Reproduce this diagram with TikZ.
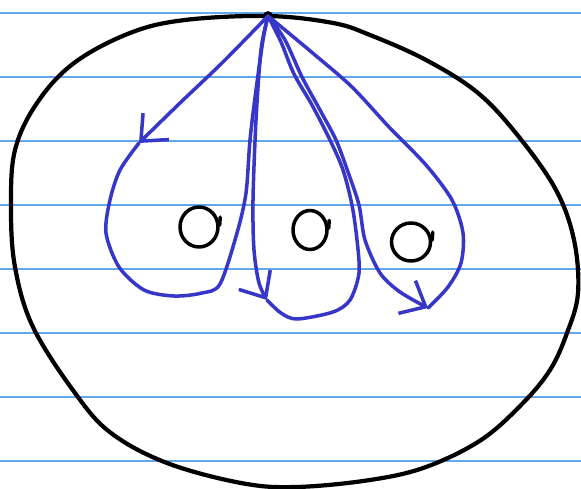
\documentclass[tikz,border=0pt]{standalone}
\usetikzlibrary{arrows.meta,shapes.geometric}
\definecolor{ruleblue}{HTML}{62A6EC}
\definecolor{inkblue}{HTML}{3636C8}

\begin{document}
\begin{tikzpicture}[x=0.02cm, y=-0.02cm,
  ink/.style={line width=2.2pt, line cap=round, line join=round},
  strand/.style={ink, inkblue, line width=2pt},
  barb/.style={-{Straight Barb[length=12pt, width=21pt]}},
  hole/.style={draw, ellipse, ink, line width=2pt, inner sep=0pt}]
% paper
\useasboundingbox[fill=white] (0,0) rectangle (581,489);
\foreach \y in {13,77,...,461}
  \draw[ruleblue, line width=0.9pt] (0,\y) -- (581,\y);

% disc
\coordinate (base) at (268,16);
\draw[ink, line width=2.4pt] plot[smooth cycle, tension=0.6] coordinates {
  (base) (333,23) (370,35) (426,60) (478,93) (519,137) (556,190) (574,240)
  (578,293) (567,333) (550,370) (522,404) (481,440) (426,467) (370,480)
  (296,487) (241,483) (167,463) (111,433) (75,393) (33,327) (15,267)
  (11,207) (15,150) (37,103) (74,63) (130,33) (185,20)};
\fill (base) circle (2.8pt);

% holes
\foreach \n/\x/\y/\w/\h in {1/199/227/0.76/0.80, 2/310/230/0.68/0.78, 3/411/242/0.78/0.76} {
  \node[hole, minimum width=\w cm, minimum height=\h cm] (hole\n) at (\x,\y) {};
  \draw[ink, line width=2pt] (hole\n.5) -- ++(0.5,-8);
}

% loops
\coordinate (tipA) at (139,143);
\coordinate (tipB) at (267,300);
\coordinate (tipC) at (428,308);

\draw[strand, barb] plot[smooth] coordinates {(base) (222,63) (180,103) (tipA)};
\draw[strand] plot[smooth] coordinates {(tipA) (120,170) (110,200) (106,233)
  (119,267) (144,290) (174,296) (202,293) (220,284) (237,233) (246,193)
  (250,140) (256,90) (263,40) (base)};

\draw[strand, barb] plot[smooth] coordinates {(base) (261,50) (256,120)
  (253,200) (254,250) (259,283) (tipB)};
\draw[strand] plot[smooth] coordinates {(tipB) (281,313) (297,319) (333,312)
  (350,300) (359,273) (357,240) (352,205) (343,170) (330,140) (312,105)
  (294,74) (281,42) (base)};

\draw[strand, barb] plot[smooth] coordinates {(base) (285,40) (302,77)
  (320,110) (336,140) (348,172) (359,205) (365,240) (380,273) (400,292) (tipC)};
\draw[strand] plot[smooth] coordinates {(tipC) (448,287) (461,263) (463,233)
  (452,200) (426,165) (389,127) (352,87) (315,55) (285,30) (base)};
\end{tikzpicture}
\end{document}
